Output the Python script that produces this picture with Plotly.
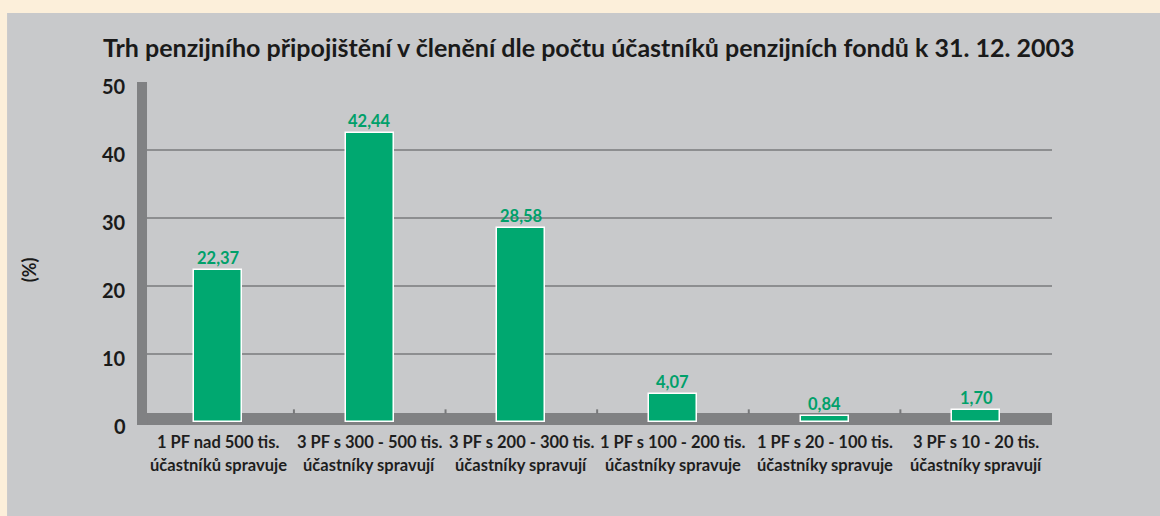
import plotly.graph_objects as go

title = "Trh penzijního připojištění v členění dle počtu účastníků penzijních fondů k 31. 12. 2003"
cat_line1 = ["1 PF nad 500 tis.", "3 PF s 300 - 500 tis.", "3 PF s 200 - 300 tis.",
             "1 PF s 100 - 200 tis.", "1 PF s 20 - 100 tis.", "3 PF s 10 - 20 tis."]
cat_line2 = ["účastníků spravuje", "účastníky spravují", "účastníky spravují",
             "účastníky spravuje", "účastníky spravuje", "účastníky spravují"]
values = [22.37, 42.44, 28.58, 4.07, 0.84, 1.70]
y_ticks = [0, 10, 20, 30, 40, 50]
y_title = "(%)"

categories = [a + " " + b for a, b in zip(cat_line1, cat_line2)]
labels = [f"{v:.2f}".replace(".", ",") for v in values]

GREEN = "#00a870"
WALL = "#808183"
FONT = "Lato"

fig = go.Figure()
fig.add_trace(go.Bar(
    x=categories, y=values, width=0.317,
    marker=dict(color=GREEN, line=dict(color="white", width=1.5)),
    hoverinfo="skip",
))

shapes = []
# gray panel
shapes.append(dict(type="rect", xref="paper", yref="paper", x0=-0.142, x1=1.12, y0=-0.27, y1=1.2006,
                   fillcolor="#c8c9cb", line=dict(width=0), layer="below"))
# gridlines
for v in y_ticks[1:-1]:
    shapes.append(dict(type="line", xref="x", yref="y", x0=-0.47, x1=5.51, y0=v, y1=v,
                       line=dict(color="#8d8e90", width=2), layer="below"))
# floor band
shapes.append(dict(type="rect", xref="x", yref="y", x0=-0.535, x1=5.5, y0=-0.44, y1=1.32,
                   fillcolor=WALL, line=dict(width=0), layer="below"))
# wall
shapes.append(dict(type="rect", xref="x", yref="y", x0=-0.535, x1=-0.469, y0=-0.44, y1=50,
                   fillcolor=WALL, line=dict(width=0), layer="below"))
# floor ticks
for i in range(len(categories) - 1):
    shapes.append(dict(type="line", xref="x", yref="y", x0=i + 0.5, x1=i + 0.5, y0=1.2, y1=1.85,
                       line=dict(color="#77787a", width=2), layer="below"))

annotations = []
for i in range(len(categories)):
    # value labels
    annotations.append(dict(x=categories[i], y=values[i], xref="x", yref="y", text=labels[i],
                            showarrow=False, xanchor="center", yanchor="bottom", yshift=0,
                            font=dict(family=FONT, size=16.5, color="#00a06a", weight="bold")))
    annotations.append(dict(x=categories[i], y=-0.0465, xref="x", yref="paper", text=cat_line1[i],
                            showarrow=False, xanchor="center", yanchor="middle",
                            font=dict(family=FONT, size=16.5, color="#1e1e1e", weight="bold")))
    annotations.append(dict(x=categories[i], y=-0.113, xref="x", yref="paper", text=cat_line2[i],
                            showarrow=False, xanchor="center", yanchor="middle",
                            font=dict(family=FONT, size=16.5, color="#1e1e1e", weight="bold")))
for v in y_ticks:
    annotations.append(dict(x=-0.01, xref="paper", y=v, yref="y", text=str(v), showarrow=False,
                            xanchor="right", yanchor="middle", yshift=-4,
                            font=dict(family=FONT, size=20, color="#1a1a1a", weight="bold")))
annotations.append(dict(x=-0.118, xref="paper", y=0.453, yref="paper", text=y_title, textangle=-90,
                        showarrow=False, xanchor="center", yanchor="middle",
                        font=dict(family=FONT, size=18, color="#1a1a1a", weight="bold")))
annotations.append(dict(x=(588 - 137) / 915, xref="paper", y=1 + (82 - 47) / 344, yref="paper",
                        text=title, showarrow=False, xanchor="center", yanchor="middle",
                        font=dict(family=FONT, size=25, color="#1a1a1a", weight="bold")))

fig.update_layout(
    width=1160, height=516,
    margin=dict(l=137, r=108, t=82, b=90),
    paper_bgcolor="#fcefda", plot_bgcolor="rgba(0,0,0,0)",
    showlegend=False, bargap=0,
    xaxis=dict(range=[-0.535, 5.5], showticklabels=False, showgrid=False, zeroline=False,
               showline=False, ticks=""),
    yaxis=dict(range=[-0.6, 50], showticklabels=False, showgrid=False, zeroline=False,
               showline=False, ticks=""),
    shapes=shapes, annotations=annotations,
)
fig.write_html("out.html", config={"displayModeBar": False},
               post_script="document.body.style.margin='0';document.body.style.overflow='hidden';")
